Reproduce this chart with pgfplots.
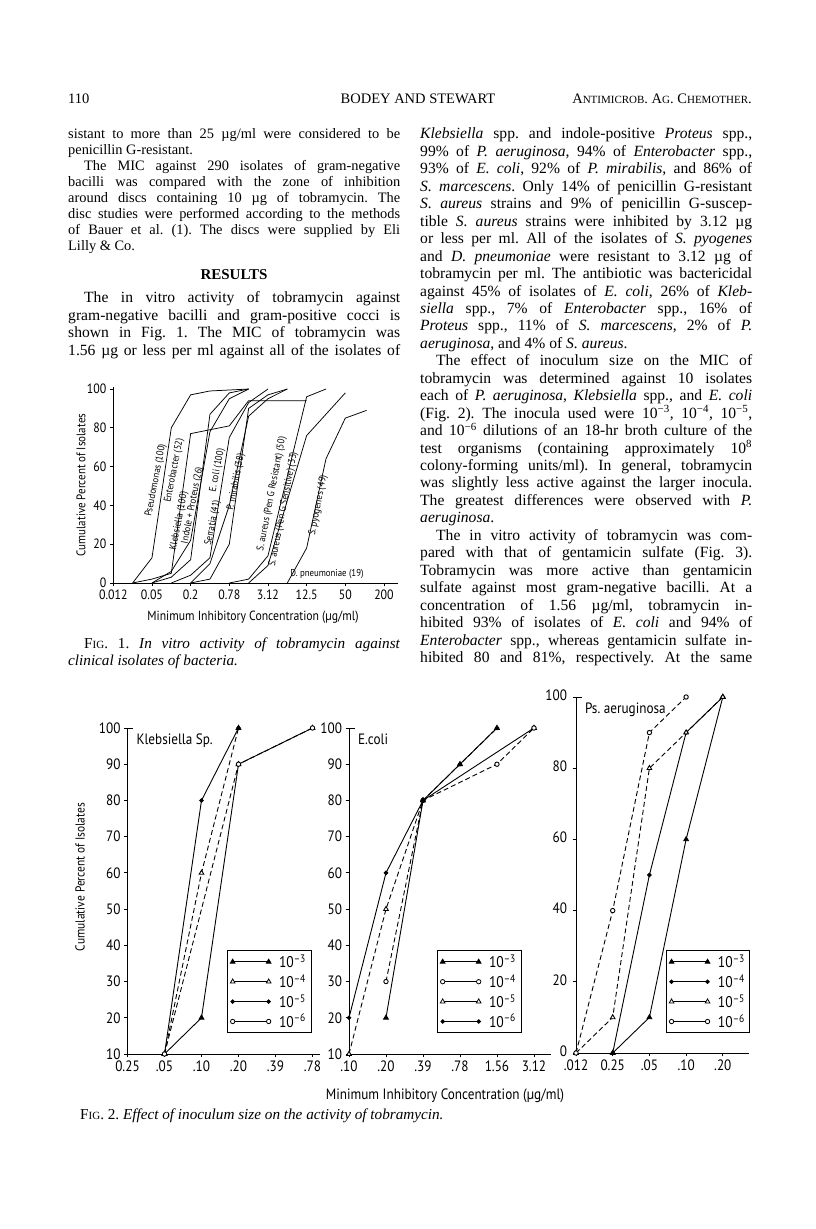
\documentclass[border=0pt]{standalone}
\usepackage{fontspec}
\setmainfont{Liberation Serif}
\newfontfamily\figf[FakeStretch=0.88]{PT Sans}
\usepackage{pgfplots}
\pgfplotsset{compat=1.18}
\frenchspacing

\newdimen\cw \cw=332pt
\newcommand\J[1]{\hbox to \cw{#1}}
\newcommand\E[1]{\hbox to \cw{#1\hfil}}
\newcommand\I{\hskip 16pt\relax}
\newcommand\smc[1]{{\fontsize{11}{11}\selectfont #1}}
\newcommand\fTa{\figf\fontsize{13.5}{15}\selectfont}
\newcommand\fTb{\figf\fontsize{15}{17}\selectfont}
\newcommand\fLab{\figf\fontsize{10}{11}\selectfont}
\newcommand\fLeg{\figf\fontsize{15.5}{17}\selectfont}

\tikzset{
  fT/.style={mark=triangle*, mark size=2.7pt, mark options={solid, fill=black}},
  oT/.style={mark=triangle*, mark size=2.7pt, mark options={solid, fill=white}},
  fC/.style={mark=*, mark size=1.8pt, mark options={solid, fill=black}},
  oC/.style={mark=*, mark size=2.2pt, mark options={solid, fill=white}},
  dsh/.style={dash pattern=on 5pt off 3pt},
}
\pgfplotsset{
  fig1/.style={scale only axis, axis lines=left, axis line style={-, line width=0.8pt},
    tick style={black, line width=0.7pt}, major tick length=3.5pt, tick align=outside,
    clip=false, ticklabel style={font=\fTa}},
  fig2/.style={scale only axis, axis lines=left, axis line style={-, line width=0.9pt},
    tick style={black, line width=0.8pt}, major tick length=3.5pt, tick align=outside,
    clip=false, ticklabel style={font=\fTb},
    legend cell align=left,
    legend style={anchor=south west, draw=black, line width=0.6pt, font=\fLeg,
      row sep=1.5pt, inner xsep=3pt, inner ysep=2pt,
      /tikz/every odd column/.append style={column sep=6pt}},
    legend image code/.code={\draw[##1, line width=0.8pt] plot coordinates {(0pt,0pt) (36pt,0pt)};}},
  c1/.style={black, line width=0.75pt},
  c2/.style={black, line width=0.9pt},
}

\begin{document}
\begin{tikzpicture}
\fill[white] (0pt,0pt) rectangle (816pt,1229pt);

% running head
\node[anchor=base west, inner sep=0, font=\fontsize{14.5}{17}\selectfont] at (68pt,1125pt) {110};
\node[anchor=base, inner sep=0, font=\fontsize{14.5}{17}\selectfont] at (418pt,1125pt) {BODEY AND STEWART};
\node[anchor=base east, inner sep=0, font=\fontsize{14.5}{17}\selectfont] at (752pt,1125pt)
  {A\smc{NTIMICROB}. A\smc{G}. C\smc{HEMOTHER}.};

% left column, methods (small type)
\node[anchor=base west, inner sep=0, font=\fontsize{14.4}{15.9}\selectfont] at (68pt,1090pt) {\vtop{\baselineskip=15.9pt
\J{sistant to more than 25 µg/ml were considered to be}
\E{penicillin G-resistant.}
\J{\I The MIC against 290 isolates of gram-negative}
\J{bacilli was compared with the zone of inhibition}
\J{around discs containing 10 µg of tobramycin. The}
\J{disc studies were performed according to the methods}
\J{of Bauer et al. (1). The discs were supplied by Eli}
\E{Lilly \& Co.}}};

\node[anchor=base, inner sep=0, font=\bfseries\fontsize{15}{17}\selectfont] at (234pt,949pt) {RESULTS};

\node[anchor=base west, inner sep=0, font=\fontsize{15.6}{17.45}\selectfont] at (68pt,926pt) {\vtop{\baselineskip=17.45pt
\J{\I The in vitro activity of tobramycin against}
\J{gram-negative bacilli and gram-positive cocci is}
\J{shown in Fig. 1. The MIC of tobramycin was}
\J{1.56 µg or less per ml against all of the isolates of}}};

% right column
\node[anchor=base west, inner sep=0, font=\fontsize{15.6}{17.45}\selectfont] at (420pt,1090pt) {\vtop{\baselineskip=17.45pt
\J{\textit{Klebsiella} spp. and indole-positive \textit{Proteus} spp.,}
\J{99\% of \textit{P. aeruginosa}, 94\% of \textit{Enterobacter} spp.,}
\J{93\% of \textit{E. coli}, 92\% of \textit{P. mirabilis}, and 86\% of}
\J{\textit{S. marcescens}. Only 14\% of penicillin G-resistant}
\J{\textit{S. aureus} strains and 9\% of penicillin G-suscep-}
\J{tible \textit{S. aureus} strains were inhibited by 3.12 µg}
\J{or less per ml. All of the isolates of \textit{S. pyogenes}}
\J{and \textit{D. pneumoniae} were resistant to 3.12 µg of}
\J{tobramycin per ml. The antibiotic was bactericidal}
\J{against 45\% of isolates of \textit{E. coli}, 26\% of \textit{Kleb-}}
\J{\textit{siella} spp., 7\% of \textit{Enterobacter} spp., 16\% of}
\J{\textit{Proteus} spp., 11\% of \textit{S. marcescens}, 2\% of \textit{P.}}
\E{\textit{aeruginosa}, and 4\% of \textit{S. aureus}.}
\J{\I The effect of inoculum size on the MIC of}
\J{tobramycin was determined against 10 isolates}
\J{each of \textit{P. aeruginosa}, \textit{Klebsiella} spp., and \textit{E. coli}}
\J{(Fig. 2). The inocula used were 10\textsuperscript{−3}, 10\textsuperscript{−4}, 10\textsuperscript{−5},}
\J{and 10\textsuperscript{−6} dilutions of an 18-hr broth culture of the}
\J{test organisms (containing approximately 10\textsuperscript{8}}
\J{colony-forming units/ml). In general, tobramycin}
\J{was slightly less active against the larger inocula.}
\J{The greatest differences were observed with \textit{P.}}
\E{\textit{aeruginosa}.}
\J{\I The in vitro activity of tobramycin was com-}
\J{pared with that of gentamicin sulfate (Fig. 3).}
\J{Tobramycin was more active than gentamicin}
\J{sulfate against most gram-negative bacilli. At a}
\J{concentration of 1.56 µg/ml, tobramycin in-}
\J{hibited 93\% of isolates of \textit{E. coli} and 94\% of}
\J{\textit{Enterobacter} spp., whereas gentamicin sulfate in-}
\J{hibited 80 and 81\%, respectively. At the same}}};

% ===== Fig. 1 =====
\begin{axis}[fig1, at={(113.3pt,646pt)}, anchor=south west, width=284.2pt, height=195.9pt,
  xmin=0, xmax=14.7, ymin=0, ymax=101,
  xtick={0,2,4,6,8,10,12,14}, xticklabels={0.012,0.05,0.2,0.78,3.12,12.5,50,200},
  ytick={0,20,40,60,80,100}, yticklabels={0,20,40,60,80,100}]
\addplot[c1] coordinates {(1,0)(2,13)(3,80)(4,97)(5,99)(7,100)};
\addplot[c1] coordinates {(1,0)(2,2)(3,5)(4,77)(5,79)(6,81)(7,94)(10,94)};
\addplot[c1] coordinates {(2,0)(3,3)(4,12)(5,87)(6,98)(7,100)};
\addplot[c1] coordinates {(2,0)(3,6)(4,22)(5,78)(6,95)(7,100)};
\addplot[c1] coordinates {(3,0)(4,4)(5,13)(6,75)(7,93)(8,100)};
\addplot[c1] coordinates {(4,0)(5,10)(6,40)(7,86)(8,95)(9,100)};
\addplot[c1] coordinates {(4,0)(5,2)(6,20)(7,90)(8,97)(9,100)};
\addplot[c1] coordinates {(6,0)(7,2)(8,14)(10,96)(11,100)};
\addplot[c1] coordinates {(7,0)(8,9)(10,76)(11,87)(12,98)};
\addplot[c1] coordinates {(9,0)(10,18)(11,64)(12,85)(13.1,89)};
\node[rotate=79, font=\fLab] at (axis cs:2.2,53) {Pseudomonas (100)};
\node[rotate=79, font=\fLab] at (axis cs:3.15,58) {Enterobacter (52)};
\node[rotate=79, font=\fLab] at (axis cs:3.4,32) {Klebsiella (100)};
\node[rotate=79, font=\fLab] at (axis cs:4.1,40) {Indole + Proteus (26)};
\node[rotate=79, font=\fLab] at (axis cs:5.38,58) {E. coli (100)};
\node[rotate=79, font=\fLab] at (axis cs:5.15,31) {Serratia (41)};
\node[rotate=79, font=\fLab] at (axis cs:6.35,52) {P. mirabilis (38)};
\node[rotate=79, font=\fLab] at (axis cs:8.2,46) {S. aureus (Pen G Resistant) (50)};
\node[rotate=79, font=\fLab] at (axis cs:8.8,38) {S. aureus (Pen G Sensitive) (33)};
\node[rotate=79, font=\fLab] at (axis cs:10.6,40) {S. pyogenes (49)};
\node[font=\fLab] at (axis cs:11.05,4.6) {D. pneumoniae (19)};
\end{axis}
\node[rotate=90, font=\figf\fontsize{12.5}{14}\selectfont] at (81pt,744pt) {Cumulative Percent of Isolates};
\node[anchor=base, font=\figf\fontsize{13.3}{15}\selectfont] at (253pt,608pt) {Minimum Inhibitory Concentration (µg/ml)};
\node[anchor=base west, inner sep=0, font=\fontsize{15.2}{17}\selectfont] at (68pt,580pt) {\vtop{\baselineskip=17pt
\J{\I F\smc{IG}. 1. \textit{In vitro activity of tobramycin against}}
\E{\textit{clinical isolates of bacteria.}}}};

% ===== Fig. 2 =====
\begin{axis}[fig2, at={(127.5pt,175pt)}, anchor=south west, width=192.4pt, height=326pt,
  xmin=0, xmax=5.2, ymin=10, ymax=100,
  xtick={0,1,2,3,4,5}, xticklabels={0.25,.05,.10,.20,.39,.78},
  ytick={10,20,30,40,50,60,70,80,90,100}, yticklabels={10,20,30,40,50,60,70,80,90,100},
  legend style={at={(axis cs:2.69,15.8)}}]
\addlegendimage{solid, fT}\addlegendentry{10\textsuperscript{–3}}
\addlegendimage{solid, oT}\addlegendentry{10\textsuperscript{–4}}
\addlegendimage{solid, fC}\addlegendentry{10\textsuperscript{–5}}
\addlegendimage{solid, oC}\addlegendentry{10\textsuperscript{–6}}
\addplot[c2, fT, forget plot] coordinates {(1,10)(2,20)(3,90)(5,100)};
\addplot[c2, dsh, oT, forget plot] coordinates {(1,10)(2,60)(3,100)};
\addplot[c2, fC, forget plot] coordinates {(1,10)(2,80)(3,100)};
\addplot[c2, dsh, oC, forget plot] coordinates {(1,10)(3,90)(5,100)};
\draw[line width=0.9pt] (axis cs:0,100) -- (axis cs:0.15,100);
\node[anchor=base west, font=\fTb] at (axis cs:0.15,95.5) {Klebsiella Sp.};
\end{axis}

\begin{axis}[fig2, at={(349pt,175pt)}, anchor=south west, width=201.6pt, height=326pt,
  xmin=0, xmax=5.45, ymin=10, ymax=100,
  xtick={0,1,2,3,4,5}, xticklabels={.10,.20,.39,.78,1.56,3.12},
  ytick={10,20,30,40,50,60,70,80,90,100}, yticklabels={10,20,30,40,50,60,70,80,90,100},
  legend style={at={(axis cs:2.38,15.8)}}]
\addlegendimage{solid, fT}\addlegendentry{10\textsuperscript{–3}}
\addlegendimage{solid, oC}\addlegendentry{10\textsuperscript{–4}}
\addlegendimage{solid, oT}\addlegendentry{10\textsuperscript{–5}}
\addlegendimage{solid, fC}\addlegendentry{10\textsuperscript{–6}}
\addplot[c2, fT, forget plot] coordinates {(1,20)(2,80)(5,100)};
\addplot[c2, dsh, oC, forget plot] coordinates {(1,30)(2,80)(4,90)(5,100)};
\addplot[c2, dsh, oT, forget plot] coordinates {(0,10)(1,50)(2,80)(3,90)(4,100)};
\addplot[c2, fC, forget plot] coordinates {(0,20)(1,60)(2,80)(3,90)(4,100)};
\draw[line width=0.9pt] (axis cs:0,100) -- (axis cs:0.15,100);
\node[anchor=base west, font=\fTb] at (axis cs:0.15,95.5) {E.coli};
\end{axis}

\begin{axis}[fig2, at={(576pt,176pt)}, anchor=south west, width=172.5pt, height=356pt,
  xmin=0, xmax=4.7, ymin=0, ymax=100,
  xtick={0,1,2,3,4}, xticklabels={.012,0.25,.05,.10,.20},
  ytick={0,20,40,60,80,100}, yticklabels={0,20,40,60,80,100},
  yticklabel style={xshift=-2pt, yshift=2pt},
  legend style={at={(axis cs:2.45,5.6)}}]
\addlegendimage{solid, fT}\addlegendentry{10\textsuperscript{–3}}
\addlegendimage{solid, fC}\addlegendentry{10\textsuperscript{–4}}
\addlegendimage{solid, oT}\addlegendentry{10\textsuperscript{–5}}
\addlegendimage{solid, oC}\addlegendentry{10\textsuperscript{–6}}
\addplot[c2, fT, forget plot] coordinates {(1,0)(2,10)(3,60)(4,100)};
\addplot[c2, fC, forget plot] coordinates {(1,0)(2,50)(3,90)(4,100)};
\addplot[c2, dsh, oT, forget plot] coordinates {(0,0)(1,10)(2,80)(3,90)(4,100)};
\addplot[c2, dsh, oC, forget plot] coordinates {(0,0)(1,40)(2,90)(3,100)};
\draw[line width=0.9pt] (axis cs:0,100) -- (axis cs:0.15,100);
\node[anchor=base west, font=\fTb] at (axis cs:0.15,95.5) {Ps. aeruginosa};
\end{axis}

\node[rotate=90, font=\figf\fontsize{13}{15}\selectfont] at (80pt,352pt) {Cumulative Percent of Isolates};
\node[anchor=base, font=\figf\fontsize{15}{17}\selectfont] at (445pt,129pt) {Minimum Inhibitory Concentration (µg/ml)};
\node[anchor=base west, inner sep=0, font=\fontsize{15.2}{17}\selectfont] at (80pt,109pt)
  {F\smc{IG}. 2. \textit{Effect of inoculum size on the activity of tobramycin.}};
\end{tikzpicture}
\end{document}
